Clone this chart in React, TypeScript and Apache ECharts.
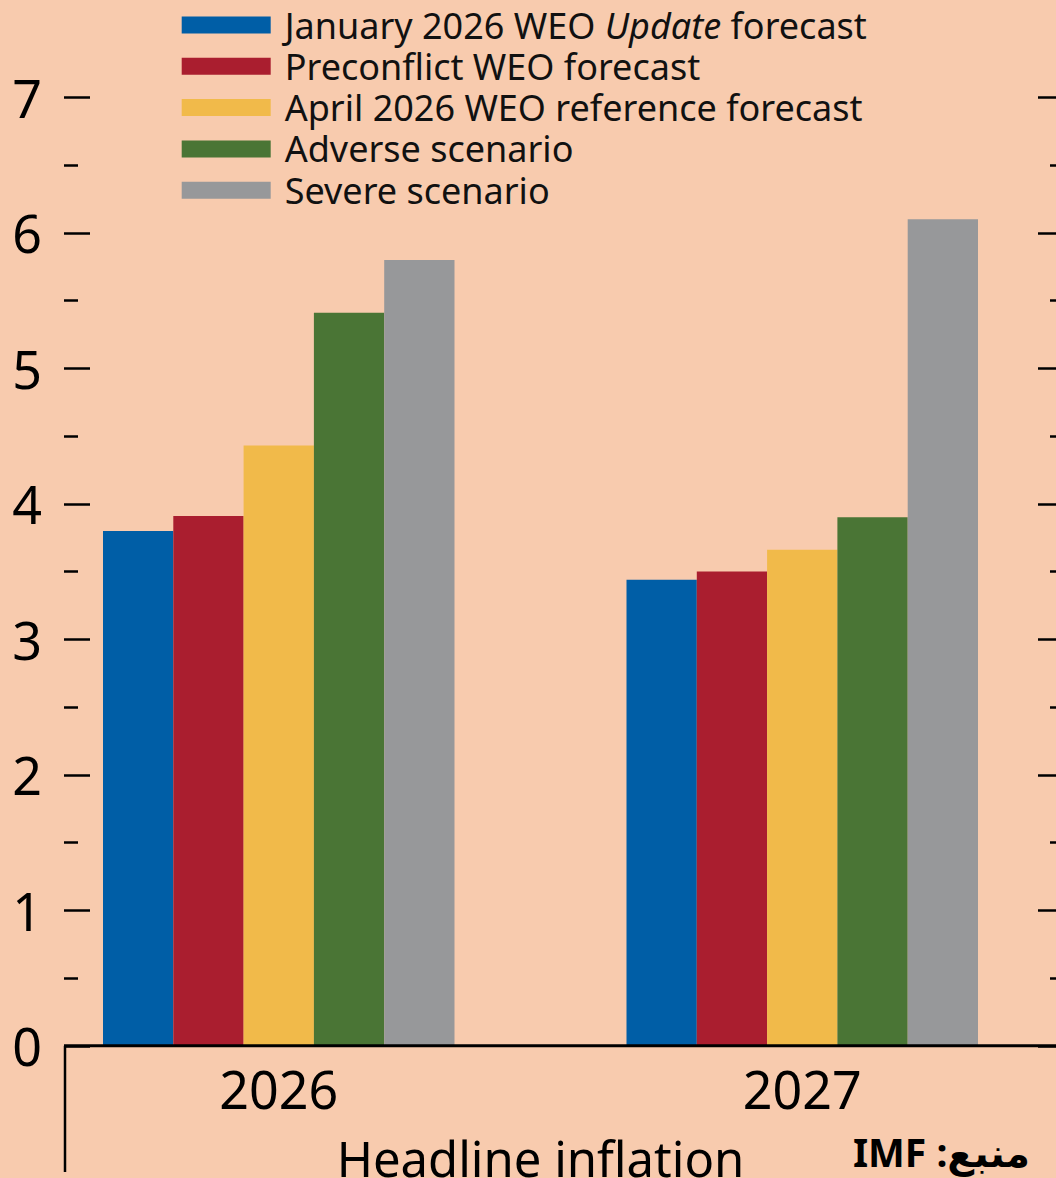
import React, { useEffect, useRef } from "react";
import * as echarts from "echarts";

const categories = ["2026", "2027"];
const seriesNames = [
  "January 2026 WEO Update forecast",
  "Preconflict WEO forecast",
  "April 2026 WEO reference forecast",
  "Adverse scenario",
  "Severe scenario",
];
const januaryUpdate = [3.8, 3.44];
const preconflict = [3.91, 3.5];
const aprilReference = [4.43, 3.66];
const adverse = [5.41, 3.9];
const severe = [5.8, 6.1];
const seriesValues = [januaryUpdate, preconflict, aprilReference, adverse, severe];
const seriesColors = ["#005EA6", "#AA1E2F", "#F1BA4A", "#4A7535", "#97989A"];
const yMin = 0;
const yMax = 7;
const yInterval = 1;
const axisTitle = "Headline inflation";
const sourceText = "\u202Bمنبع: IMF\u202C";

const FONT = "'Noto Sans', 'DejaVu Sans', sans-serif";

export default function App() {
  const ref = useRef<HTMLDivElement>(null);
  useEffect(() => {
    document.body.style.margin = "0";
    const chart = echarts.init(ref.current!, null, { renderer: "svg" });
    const yAxisCommon = {
      type: "value",
      min: yMin,
      max: yMax,
      interval: yInterval,
      axisLine: { show: false },
      splitLine: { show: false },
      axisTick: { show: true, inside: true, length: 26, lineStyle: { color: "#000", width: 2.5 } },
      minorTick: { show: true, splitNumber: 2, length: 14, lineStyle: { color: "#000", width: 2.5 } },
    };
    chart.setOption({
      animation: false,
      backgroundColor: "#F8CBAE",
      textStyle: { fontFamily: FONT },
      grid: {
        left: 17,
        right: -8,
        top: 97.3,
        bottom: 132.2,
        containLabel: false,
        outerBoundsMode: "none",
      },
      legend: {
        orient: "vertical",
        left: 181.7,
        top: 7,
        padding: 0,
        itemGap: 5.3,
        itemWidth: 89,
        itemHeight: 17,
        icon: "rect",
        selectedMode: false,
        data: seriesNames,
        formatter: (name: string) => name.replace("Update", "{i|Update}"),
        textStyle: {
          fontFamily: FONT,
          fontSize: 36,
          lineHeight: 36,
          color: "#111",
          padding: [0, 0, 0, 9],
          rich: {
            i: { fontFamily: FONT, fontSize: 36, lineHeight: 36, fontStyle: "italic", color: "#111" },
          },
        },
      },
      xAxis: {
        type: "category",
        data: categories,
        axisLine: { show: false },
        axisTick: { show: false },
        axisLabel: { color: "#000", fontSize: 52, margin: 17, fontFamily: FONT },
        name: axisTitle,
        nameLocation: "middle",
        nameGap: 88,
        nameTextStyle: { color: "#000", fontSize: 49, fontFamily: FONT, verticalAlign: "top" },
      },
      yAxis: [
        {
          ...yAxisCommon,
          position: "left",
          offset: -47,
          axisLabel: { show: true, color: "#000", fontSize: 52, margin: 22, fontFamily: FONT },
        },
        {
          ...yAxisCommon,
          position: "right",
          axisLabel: { show: false },
        },
      ],
      series: seriesNames.map((name, i) => ({
        name,
        type: "bar",
        data: seriesValues[i],
        barWidth: 70.3,
        barGap: "0%",
        itemStyle: { color: seriesColors[i] },
      })),
    });
    const y0 = chart.convertToPixel({ yAxisIndex: 0 }, 0) as number;
    chart.setOption({
      graphic: [
        {
          type: "line",
          shape: { x1: 64, y1: y0, x2: 1056, y2: y0 },
          style: { stroke: "#000", lineWidth: 3 },
          z: 10,
        },
        {
          type: "line",
          shape: { x1: 65, y1: y0, x2: 65, y2: 1172 },
          style: { stroke: "#000", lineWidth: 2.5 },
          z: 10,
        },
        {
          type: "text",
          x: 1030,
          y: 1151,
          style: {
            text: sourceText,
            fontFamily: FONT,
            fontWeight: "bold",
            fontSize: 39,
            fill: "#000",
            textAlign: "right",
            textVerticalAlign: "middle",
          },
          z: 20,
        },
      ],
    });
    return () => chart.dispose();
  }, []);
  return <div ref={ref} style={{ width: 1056, height: 1178 }} />;
}
